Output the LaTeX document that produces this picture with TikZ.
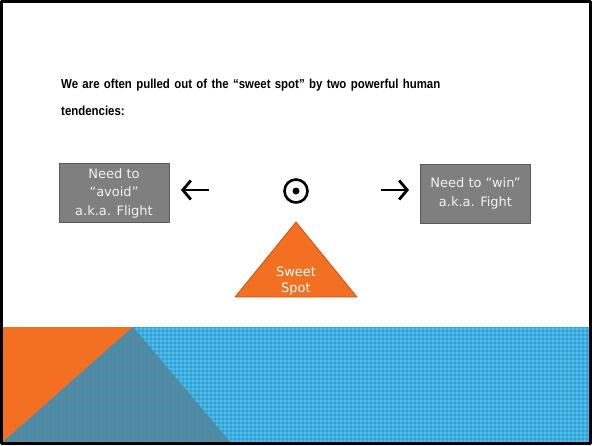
\documentclass[tikz,border=0pt]{standalone}
\usepackage{fontspec}
\setmainfont{DejaVu Sans}
\newfontfamily\headfont[FakeStretch=0.88, WordSpace=0.55]{Liberation Sans}
\usetikzlibrary{arrows.meta,positioning,calc}

\definecolor{slideorange}{HTML}{F36F21}
\definecolor{slideblue}{HTML}{22A3DC}
\definecolor{bandshade}{HTML}{2E93C0}
\definecolor{boxgray}{HTML}{7F7F7F}

\tikzset{
  tendbox/.style={draw=black!65, fill=boxgray, text=white!95!black, line width=0.8pt,
    minimum width=110pt, minimum height=59pt, inner sep=0pt, align=center,
    font=\fontsize{13}{18.5}\selectfont},
  pull/.style={line width=2.8pt, -{Straight Barb[length=8pt,width=19pt]}},
}

\begin{document}
\begin{tikzpicture}[x=1pt, y=-1pt, line join=round]
\useasboundingbox (0,0) rectangle (592,445);
% patterned band along the bottom
\fill[slideblue] (3,327) rectangle (590,442);
\foreach \k in {5,9,...,589}
  \draw[white, opacity=0.14, line width=1.2pt] (\k,327) -- (\k,442);
\foreach \k in {329,333,...,441}
  \draw[white, opacity=0.14, line width=1.2pt] (3,\k) -- (590,\k);
\fill[slideorange] (3,327) -- (133,327) -- (3,442) -- cycle;
% shaded wedge, gray grid over blue
\begin{scope}
  \clip (133,327) -- (230,442) -- (3,442) -- cycle;
  \fill[bandshade] (3,327) rectangle (230,442);
  \foreach \k in {5,9,...,229}
    \draw[gray, opacity=0.45, line width=1.2pt] (\k,327) -- (\k,442);
  \foreach \k in {329,333,...,441}
    \draw[gray, opacity=0.45, line width=1.2pt] (3,\k) -- (230,\k);
\end{scope}
% slide frame
\draw[line width=3pt] (1.5,1.5) rectangle (590.5,443.5);

\node[anchor=base west, inner sep=0pt, text width=420pt, align=left,
  font=\headfont\bfseries\fontsize{13}{27}\selectfont] (title) at (61,88)
  {We are often pulled out of the “sweet spot” by two powerful human\\tendencies:};

\node[tendbox] (flight) at (114,193) {Need to\\“avoid”\\a.k.a. Flight};
\node[tendbox] (fight) at (475.5,193.5) {Need to “win”\\a.k.a. Fight};

\node[circle, draw, line width=2.6pt, minimum size=23pt, inner sep=0pt] (spot) at (296,191) {};
\node[circle, fill, minimum size=7pt, inner sep=0pt] (dot) at (spot) {};

\coordinate (lt) at (209,190);
\coordinate (lh) at (181,190);
\coordinate (rt) at (381,190);
\coordinate (rh) at (409,190);
\draw[pull] (lt) -- (lh);
\draw[pull] (rt) -- (rh);

\coordinate (apex) at (296,222);
\coordinate (bl) at (235,297);
\coordinate (br) at (357,297);
\draw[fill=slideorange, draw=slideorange!80!black, line width=0.8pt] (apex) -- (bl) -- (br) -- cycle;
\node[text=white, align=center, font=\fontsize{13}{16.5}\selectfont] (sweet) at (296,281) {Sweet\\Spot};
\end{tikzpicture}
\end{document}
